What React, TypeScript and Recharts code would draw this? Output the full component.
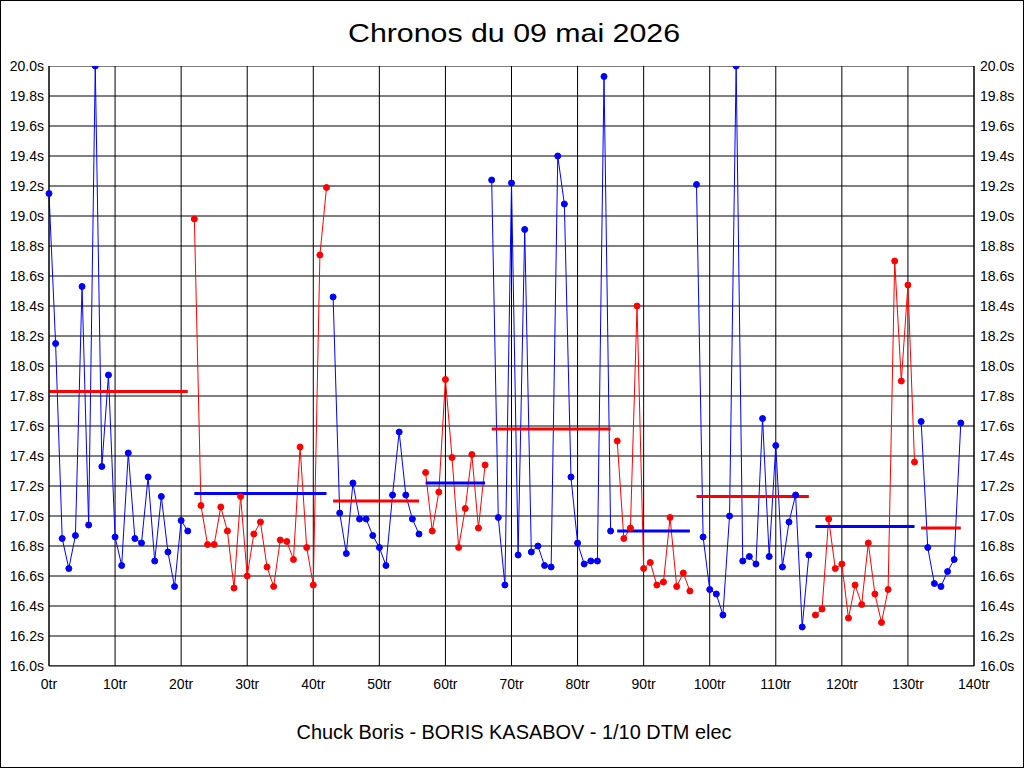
import { LineChart, Line, XAxis, YAxis, CartesianGrid } from 'recharts'

// lap times per stint (seconds)
const stint1 = [19.15, 18.15, 16.85, 16.65, 16.87, 18.53, 16.94, 20.0, 17.33, 17.94, 16.86, 16.67, 17.42, 16.85, 16.82, 17.26, 16.70, 17.13, 16.76, 16.53, 16.97, 16.90]
const stint2 = [18.98, 17.07, 16.81, 16.81, 17.06, 16.90, 16.52, 17.13, 16.60, 16.88, 16.96, 16.66, 16.53, 16.84, 16.83, 16.71, 17.46, 16.79, 16.54, 18.74, 19.19]
const stint3 = [18.46, 17.02, 16.75, 17.22, 16.98, 16.98, 16.87, 16.79, 16.67, 17.14, 17.56, 17.14, 16.98, 16.88]
const stint4 = [17.29, 16.90, 17.16, 17.91, 17.39, 16.79, 17.05, 17.41, 16.92, 17.34]
const stint5 = [19.24, 16.99, 16.54, 19.22, 16.74, 18.91, 16.76, 16.80, 16.67, 16.66, 19.40, 19.08, 17.26, 16.82, 16.68, 16.70, 16.70, 19.93, 16.90]
const stint6 = [17.50, 16.85, 16.92, 18.40, 16.65, 16.69, 16.54, 16.56, 16.99, 16.53, 16.62, 16.50]
const stint7 = [19.21, 16.86, 16.51, 16.48, 16.34, 17.00, 20.0, 16.70, 16.73, 16.68, 17.65, 16.73, 17.47, 16.66, 16.96, 17.14, 16.26, 16.74]
const stint8 = [16.34, 16.38, 16.98, 16.65, 16.68, 16.32, 16.54, 16.41, 16.82, 16.48, 16.29, 16.51, 18.70, 17.90, 18.54, 17.36]
const stint9 = [17.63, 16.79, 16.55, 16.53, 16.63, 16.71, 17.62]

const stints = [stint1, stint2, stint3, stint4, stint5, stint6, stint7, stint8, stint9]
// reference (average) line drawn over each stint
const stintMeans = [17.83, 17.15, 17.10, 17.22, 17.58, 16.90, 17.13, 16.93, 16.92]

const xTicks = [0, 10, 20, 30, 40, 50, 60, 70, 80, 90, 100, 110, 120, 130, 140]
const yTicks = [16.0, 16.2, 16.4, 16.6, 16.8, 17.0, 17.2, 17.4, 17.6, 17.8, 18.0, 18.2, 18.4, 18.6, 18.8, 19.0, 19.2, 19.4, 19.6, 19.8, 20.0]
const xDomain = [0, 140]
const yDomain = [16, 20]

const BLUE = '#0000FF'
const RED = '#FF0000'
const FONT = '"Liberation Sans", Arial, sans-serif'

// build per-stint series with the lap number as x
let lapCursor = 0
const series = stints.map((times, i) => {
  const start = lapCursor
  const points = times.map((t, j) => ({ lap: start + j, t }))
  lapCursor += times.length
  const end = start + times.length - 1
  return {
    key: `s${i}`,
    color: i % 2 === 0 ? BLUE : RED,
    meanColor: i % 2 === 0 ? RED : BLUE,
    points,
    mean: [{ lap: start, t: stintMeans[i] }, { lap: end, t: stintMeans[i] }],
  }
})

// horizontal grid rows spanning the whole x domain
const gridRows = yTicks.map(t => [{ lap: xDomain[0], t }, { lap: xDomain[1], t }])

const tickStyle = { fontSize: 14, fill: '#000', fontFamily: FONT }

export default function App() {
  return (
    <div style={{ position: 'relative', width: 1024, height: 768, background: '#fff' }}>
      <style>{'body{margin:0}'}</style>
      <LineChart width={1024} height={768} margin={{ top: 66, right: 0, bottom: 0, left: 0 }}>
        <CartesianGrid stroke="#000" strokeWidth={1} horizontal={false} />
        <XAxis
          type="number"
          dataKey="lap"
          domain={xDomain}
          ticks={xTicks}
          height={102}
          allowDuplicatedCategory={false}
          tickFormatter={(v: number) => `${v}tr`}
          tick={tickStyle}
          tickLine={false}
          tickSize={0}
          tickMargin={13}
          axisLine={{ stroke: '#000' }}
          interval={0}
        />
        <YAxis
          type="number"
          domain={yDomain}
          ticks={yTicks}
          width={49}
          tickFormatter={(v: number) => `${v.toFixed(1)}s`}
          tick={tickStyle}
          tickLine={false}
          tickSize={0}
          tickMargin={5}
          axisLine={{ stroke: '#000' }}
          interval={0}
          allowDataOverflow
        />
        <YAxis
          yAxisId="right"
          orientation="right"
          type="number"
          domain={yDomain}
          ticks={yTicks}
          width={50}
          tickFormatter={(v: number) => `${v.toFixed(1)}s`}
          tick={{ ...tickStyle, textAnchor: 'start' }}
          tickLine={false}
          tickSize={0}
          tickMargin={6}
          axisLine={{ stroke: '#000' }}
          interval={0}
          allowDataOverflow
        />
        {gridRows.map((row, i) => (
          <Line
            key={`row-${i}`}
            data={row}
            dataKey="t"
            type="linear"
            stroke="#000"
            strokeWidth={1}
            dot={false}
            activeDot={false}
            isAnimationActive={false}
          />
        ))}
        {series.map(s => (
          <Line
            key={s.key}
            data={s.points}
            dataKey="t"
            type="linear"
            stroke={s.color}
            strokeWidth={1}
            dot={{ r: 3, fill: s.color, stroke: s.color, strokeWidth: 1 }}
            activeDot={false}
            isAnimationActive={false}
          />
        ))}
        {series.map(s => (
          <Line
            key={`${s.key}-mean`}
            data={s.mean}
            dataKey="t"
            type="linear"
            stroke={s.meanColor}
            strokeWidth={3}
            dot={false}
            activeDot={false}
            isAnimationActive={false}
          />
        ))}
      </LineChart>

      <svg width={1024} height={768} style={{ position: 'absolute', left: 0, top: 0, pointerEvents: 'none' }}>
        <rect x={0.5} y={0.5} width={1023} height={767} fill="none" stroke="#000" />
        <text x={514} y={42} textAnchor="middle" fontFamily={FONT} fontSize={26} textLength={332} lengthAdjust="spacingAndGlyphs">
          Chronos du 09 mai 2026
        </text>
        <text x={514} y={739} textAnchor="middle" fontFamily={FONT} fontSize={20} textLength={435} lengthAdjust="spacingAndGlyphs">
          Chuck Boris - BORIS KASABOV - 1/10 DTM elec
        </text>
      </svg>
    </div>
  )
}
